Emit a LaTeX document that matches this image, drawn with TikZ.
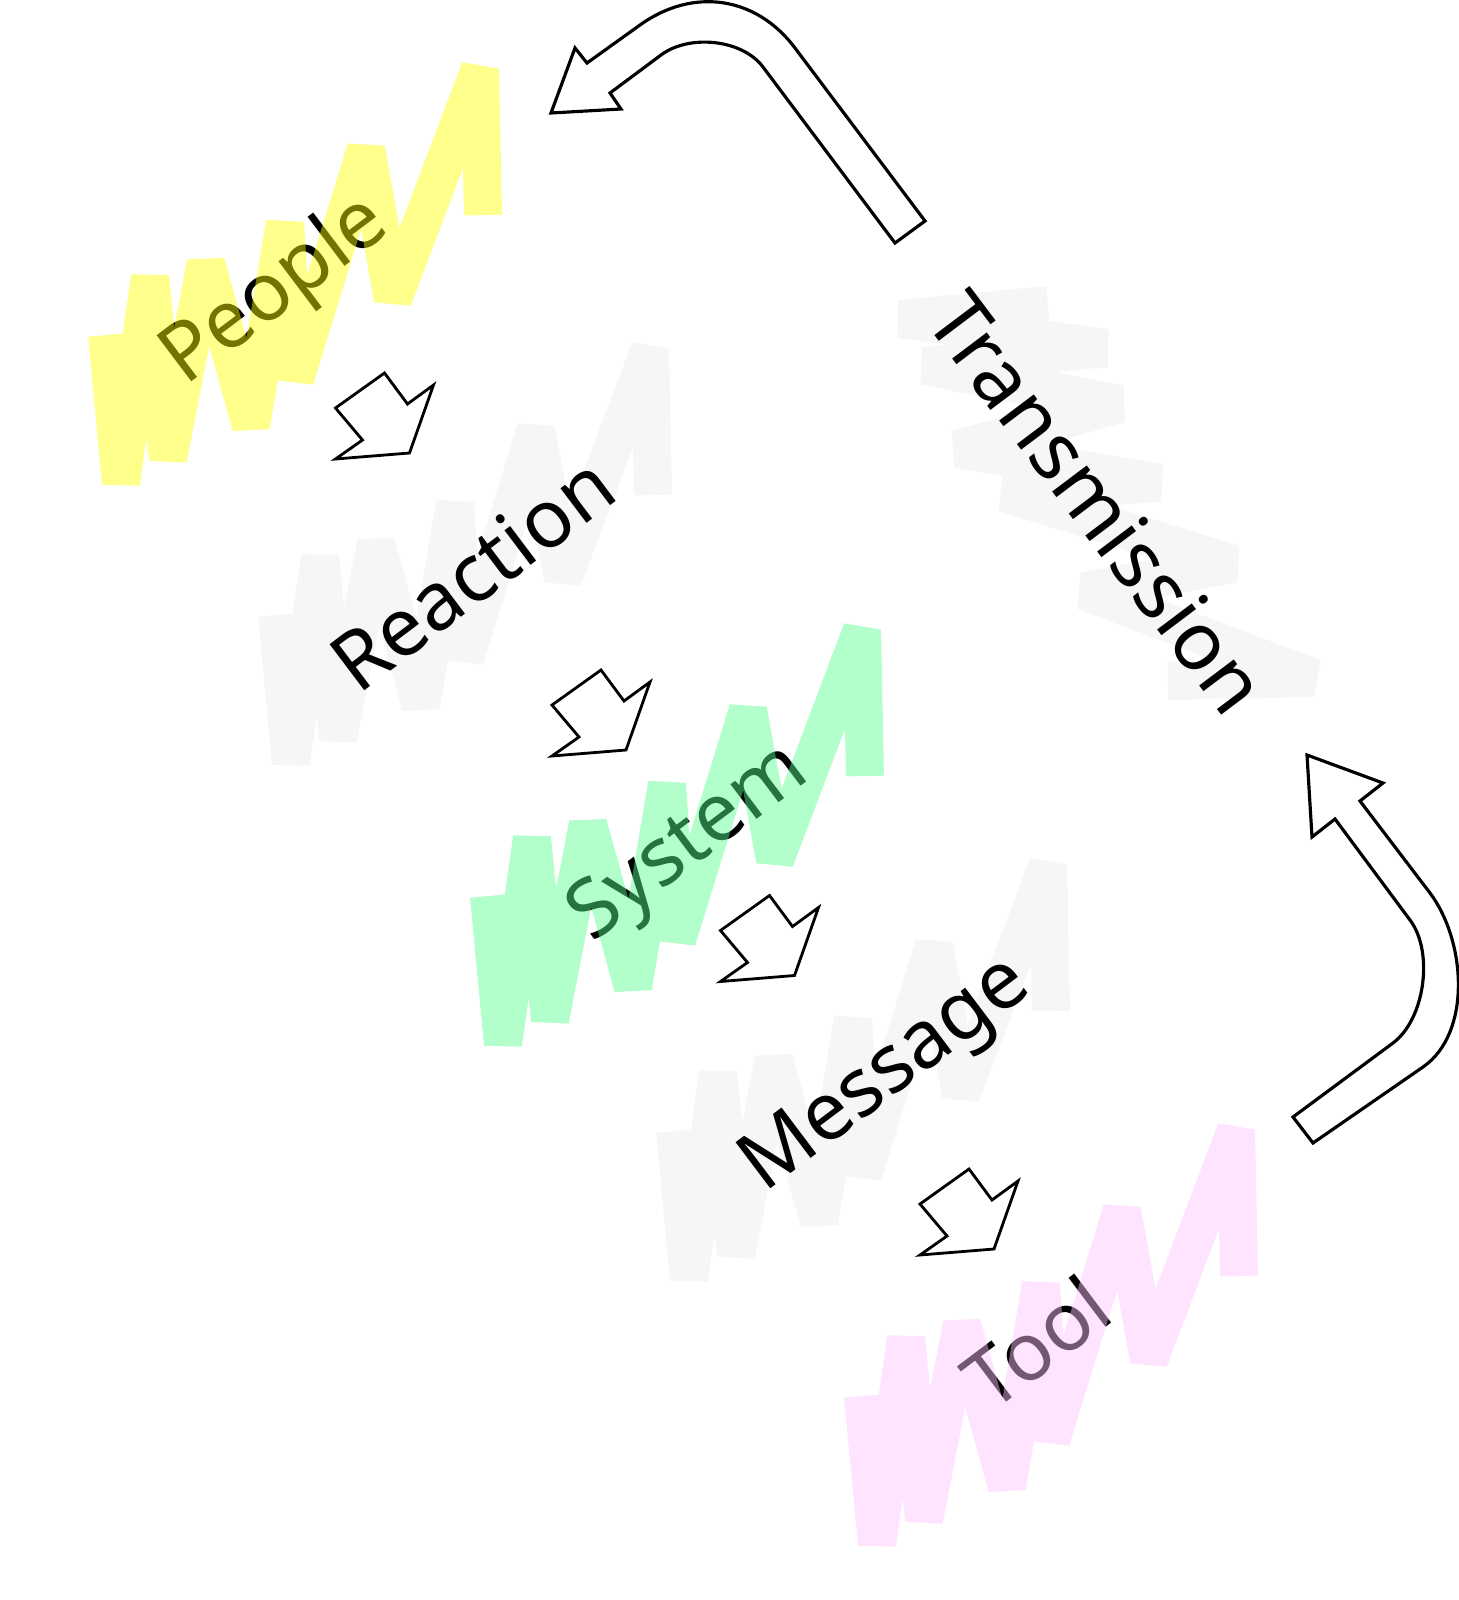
\documentclass[tikz,border=0pt]{standalone}
\usepackage{fontspec}
\setmainfont{Noto Sans}
\definecolor{hlyellow}{RGB}{255,255,0}
\definecolor{hlgreen}{RGB}{84,255,142}
\definecolor{hlpink}{RGB}{255,195,255}
\definecolor{hlgray}{RGB}{246,246,246}
\tikzset{
  scrawl/.pic={
    \draw (-190,62) -- (-176,210) -- (-147,4) -- (-129,186) -- (-91,-10) -- (-46,153) -- (-12,-50) -- (-2,106) -- (69,-124) -- (96,26) -- (183,-204) -- (186,-58);
  },
  fatarrow/.pic={
    \filldraw[fat] (0,0) -- (49,-35) -- (72,-4) -- (98,-23) -- (74,45) -- (0,51) -- (27,32) -- cycle;
  }
}
\begin{document}
\begin{tikzpicture}[
    x=0.1mm, y=-0.1mm,
    word/.style={inner sep=0pt, font=\fontsize{23}{28}\selectfont},
    faint/.style={color=hlgray, line width=3.8mm, line join=bevel},
    hilite/.style={color=#1, line width=3.8mm, line join=bevel, opacity=0.45},
    fat/.style={draw=black, fill=white, line width=0.8pt},
    loopback/.style={draw=black, fill=white, line width=0.9pt}
]
\useasboundingbox (0,0) rectangle (1459,1600);

\pic[faint] at (467,553) {scrawl};
\pic[faint] at (865,1069) {scrawl};
\pic[faint, rotate=-90] at (1110,495) {scrawl};

\node[word, rotate=37] (people) at (276,292) {People};
\node[word, rotate=37] (reaction) at (472,573) {Reaction};
\node[word, rotate=37] (system) at (690,845) {System};
\node[word, rotate=37] (message) at (888,1077) {Message};
\node[word, rotate=37] (tool) at (1036,1342) {Tool};
\node[word, rotate=-53] (transmission) at (1098,503) {Transmission};

\pic[hilite=hlyellow] at (297,273) {scrawl};
\pic[hilite=hlgreen] at (679,834) {scrawl};
\pic[hilite=hlpink] at (1053,1334) {scrawl};

\pic at (335.5,408) {fatarrow};
\pic at (552,705) {fatarrow};
\pic at (720.5,930.5) {fatarrow};
\pic at (920,1204) {fatarrow};

\draw[loopback] (925,221) -- (795,48) .. controls (756,-4) and (693,-13) .. (640,25)
  -- (587,63) -- (575,48) -- (551,113) -- (621,109) -- (610,93) -- (661,55)
  .. controls (689,34) and (742,39) .. (763,67) -- (895,243) -- cycle;

\draw[loopback] (1293,1117) -- (1393,1043) .. controls (1425,1019) and (1434,952) .. (1410,920)
  -- (1335,819) -- (1312,837) -- (1307,755) -- (1383,783) -- (1360,801) -- (1430,893)
  .. controls (1466,941) and (1472,1033) .. (1423,1067) -- (1313,1143) -- cycle;
\end{tikzpicture}
\end{document}
